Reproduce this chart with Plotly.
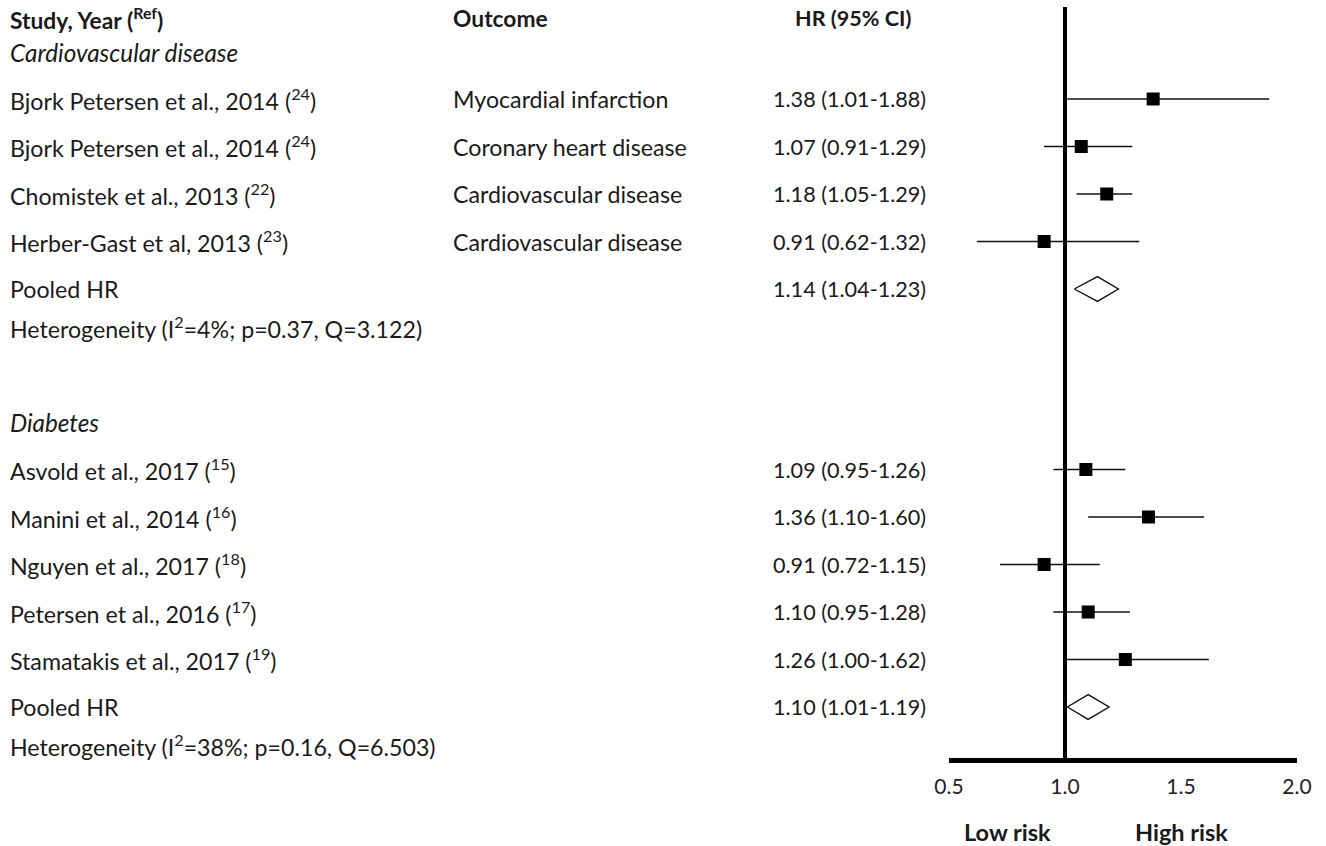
import plotly.graph_objects as go

# ---------------- data ----------------
cardio_studies = [
    "Bjork Petersen et al., 2014 (<sup>24</sup>)",
    "Bjork Petersen et al., 2014 (<sup>24</sup>)",
    "Chomistek et al., 2013 (<sup>22</sup>)",
    "Herber-Gast et al, 2013 (<sup>23</sup>)",
]
cardio_outcomes = [
    "Myocardial infarction",
    "Coronary heart disease",
    "Cardiovascular disease",
    "Cardiovascular disease",
]
cardio_hr = [1.38, 1.07, 1.18, 0.91]
cardio_lo = [1.01, 0.91, 1.05, 0.62]
cardio_hi = [1.88, 1.29, 1.29, 1.32]
cardio_pooled = [1.14, 1.04, 1.23]
cardio_het = "Heterogeneity (I<sup>2</sup>=4%; p=0.37, Q=3.122)"

diab_studies = [
    "Asvold et al., 2017 (<sup>15</sup>)",
    "Manini et al., 2014 (<sup>16</sup>)",
    "Nguyen et al., 2017 (<sup>18</sup>)",
    "Petersen et al., 2016 (<sup>17</sup>)",
    "Stamatakis et al., 2017 (<sup>19</sup>)",
]
diab_hr = [1.09, 1.36, 0.91, 1.10, 1.26]
diab_lo = [0.95, 1.10, 0.72, 0.95, 1.00]
diab_hi = [1.26, 1.60, 1.15, 1.28, 1.62]
diab_pooled = [1.10, 1.01, 1.19]
diab_het = "Heterogeneity (I<sup>2</sup>=38%; p=0.16, Q=6.503)"

tick_vals = [0.5, 1.0, 1.5, 2.0]
tick_text = ["0.5", "1.0", "1.5", "2.0"]

# ---------------- layout (row positions) ----------------
cardio_rows = [2, 3, 4, 5]
cardio_pool_row = 6
diab_rows = [9.8, 10.8, 11.8, 12.8, 13.8]
diab_pool_row = 14.8
header_row = 0.30
cardio_head_row = 1.03
diab_head_row = 8.8
het_offset = 0.82
diamond_half = 0.26

FONT = "Lato"
FS = 23.2
FS_HR = 21.6
FS_IT = 24.3
FS_B = 22.8
TXT = "#1a1a1a"
W, H = 1326, 846
X_STUDY, X_OUT, X_HR, X_HRHEAD = 8 / W, 451 / W, 771 / W, 793 / W

fig = go.Figure()


def add_section(rows, hr, lo, hi, pooled, pool_row):
    xs, ys = [], []
    for r, l, h in zip(rows, lo, hi):
        xs += [l, h, None]
        ys += [r, r, None]
    fig.add_trace(go.Scatter(x=xs, y=ys, mode="lines",
                             line=dict(color="#111111", width=1.6),
                             hoverinfo="skip", showlegend=False))
    fig.add_trace(go.Scatter(x=hr, y=rows, mode="markers",
                             marker=dict(symbol="square", size=13, color="#000000",
                                         line=dict(width=0)),
                             showlegend=False))
    p, pl, ph = pooled
    fig.add_trace(go.Scatter(
        x=[pl, p, ph, p, pl],
        y=[pool_row, pool_row - diamond_half, pool_row, pool_row + diamond_half, pool_row],
        mode="lines", fill="toself", fillcolor="white",
        line=dict(color="#111111", width=1.4), showlegend=False, hoverinfo="skip"))


add_section(cardio_rows, cardio_hr, cardio_lo, cardio_hi, cardio_pooled, cardio_pool_row)
add_section(diab_rows, diab_hr, diab_lo, diab_hi, diab_pooled, diab_pool_row)

ann = []


def txt(x, y, s, bold=False, italic=False, size=FS):
    if bold:
        s = "<b>" + s + "</b>"
    if italic:
        s = "<i>" + s + "</i>"
    ann.append(dict(x=x, y=y, xref="paper", yref="y", text=s, showarrow=False,
                    xanchor="left", yanchor="middle", align="left",
                    font=dict(family=FONT, size=size, color=TXT)))


def fmt(h, l, u):
    return f"{h:.2f} ({l:.2f}-{u:.2f})"


# headers
txt(X_STUDY, header_row, "Study, Year (<sup>Ref</sup>)", bold=True, size=FS_B)
txt(X_OUT, header_row, "Outcome", bold=True, size=FS_B)
txt(X_HRHEAD, header_row, "HR (95% CI)", bold=True, size=FS_HR)
txt(X_STUDY, cardio_head_row, "Cardiovascular disease", italic=True, size=FS_IT)
txt(X_STUDY, diab_head_row, "Diabetes", italic=True, size=FS_IT)

for r, s, o, h, l, u in zip(cardio_rows, cardio_studies, cardio_outcomes, cardio_hr, cardio_lo, cardio_hi):
    txt(X_STUDY, r, s)
    txt(X_OUT, r, o)
    txt(X_HR, r, fmt(h, l, u), size=FS_HR)
txt(X_STUDY, cardio_pool_row, "Pooled HR")
txt(X_STUDY, cardio_pool_row + het_offset, cardio_het)
txt(X_HR, cardio_pool_row, fmt(*cardio_pooled), size=FS_HR)

for r, s, h, l, u in zip(diab_rows, diab_studies, diab_hr, diab_lo, diab_hi):
    txt(X_STUDY, r, s)
    txt(X_HR, r, fmt(h, l, u), size=FS_HR)
txt(X_STUDY, diab_pool_row, "Pooled HR")
txt(X_STUDY, diab_pool_row + het_offset, diab_het)
txt(X_HR, diab_pool_row, fmt(*diab_pooled), size=FS_HR)

# risk labels
for xv, s in [(0.75, "Low risk"), (1.5, "High risk")]:
    ann.append(dict(x=xv, y=14 / H, xref="x", yref="paper", text="<b>" + s + "</b>",
                    showarrow=False, xanchor="center", yanchor="middle",
                    font=dict(family=FONT, size=23.5, color=TXT)))

y_bottom = (758 - 4) / 47.5
fig.add_shape(type="line", xref="x", yref="y", x0=1.0, x1=1.0, y0=0.063, y1=y_bottom,
              line=dict(color="#000000", width=4))

fig.update_layout(
    template="none",
    width=W, height=H, autosize=False,
    margin=dict(l=0, r=0, t=0, b=0, pad=0, autoexpand=False),
    paper_bgcolor="white", plot_bgcolor="white",
    annotations=ann,
    xaxis=dict(domain=[949 / W, 1297 / W], range=[0.5, 2.0], automargin=False,
               tickvals=tick_vals, ticktext=tick_text,
               showline=True, linewidth=5, linecolor="#000000",
               showgrid=False, zeroline=False, ticks="", ticklabelstandoff=6,
               tickfont=dict(family=FONT, size=21, color="#222222")),
    yaxis=dict(domain=[88 / H, 1], range=[y_bottom, -4 / 47.5], visible=False,
               automargin=False, showgrid=False, zeroline=False),
    showlegend=False,
)

fig.write_html(
    "out.html",
    config={"displayModeBar": False},
    post_script="document.body.style.margin='0';document.body.style.overflow='hidden';",
)
